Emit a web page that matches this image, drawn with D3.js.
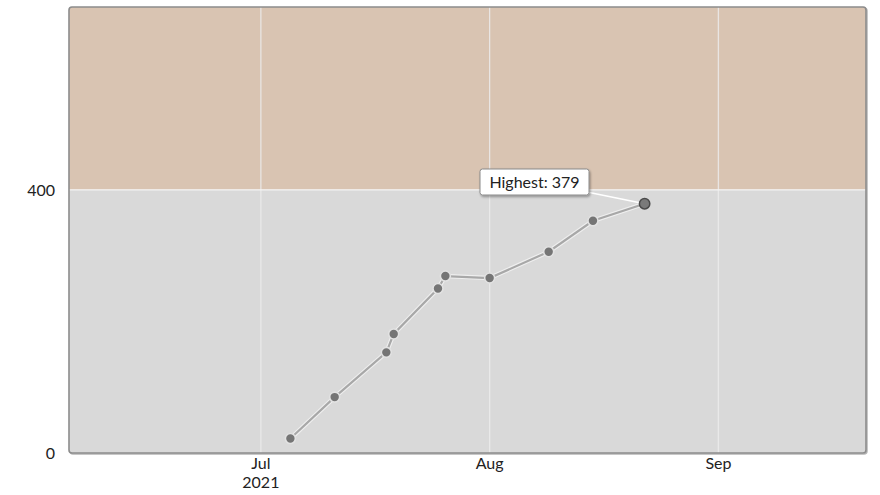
<!DOCTYPE html>
<html><head><meta charset="utf-8">
<script src="https://cdn.jsdelivr.net/npm/d3@7"></script>
<style>
body{margin:0;background:#fff;}
svg{display:block;font-family:Lato,"Open Sans",sans-serif;}
</style></head>
<body><svg id="c" width="880" height="495"></svg>
<script>
const dates = ["2021-07-05","2021-07-11","2021-07-18","2021-07-19","2021-07-25","2021-07-26","2021-08-01","2021-08-09","2021-08-15","2021-08-22"];
const values = [22, 85, 153, 181, 250, 269, 266, 306, 353, 379];
const yTicks = [0, 400];
const xTicks = ["2021-07-01","2021-08-01","2021-09-01"];
const xTickLabels = ["Jul","Aug","Sep"];
const bandThreshold = 400;
const annotationText = "Highest: 379";

const parse = d3.timeParse("%Y-%m-%d");
const data = dates.map((d,i)=>({date:parse(d), value:values[i]}));

const svg = d3.select("#c");
const L=69, R=866, T=7, B=453;
const x = d3.scaleTime().domain([parse("2021-06-05"), parse("2021-09-21")]).range([L,R]);
const y = d3.scaleLinear().domain([0,678]).range([B,T]);

const defs = svg.append("defs");
const f = defs.append("filter").attr("id","sh").attr("x","-20%").attr("y","-20%").attr("width","140%").attr("height","160%");
f.append("feDropShadow").attr("dx",1).attr("dy",1.5).attr("stdDeviation",1.2).attr("flood-color","#000").attr("flood-opacity",0.35);
defs.append("clipPath").attr("id","clip").append("rect").attr("x",L).attr("y",T).attr("width",R-L).attr("height",B-T).attr("rx",3);

svg.append("rect").attr("x",L+1).attr("y",T+1).attr("width",R-L).attr("height",B-T).attr("rx",3)
  .attr("fill","none").attr("stroke","#b5b5b5").attr("stroke-width",1.5);

const g = svg.append("g").attr("clip-path","url(#clip)");
g.append("rect").attr("x",L).attr("width",R-L).attr("y",y(bandThreshold)).attr("height",B-y(bandThreshold)).attr("fill","#d9d9d9");
g.append("rect").attr("x",L).attr("width",R-L).attr("y",T).attr("height",y(bandThreshold)-T).attr("fill","#d9c4b2");
g.selectAll(".vg").data(xTicks).join("line")
  .attr("x1",d=>x(parse(d))).attr("x2",d=>x(parse(d))).attr("y1",T).attr("y2",B)
  .attr("stroke","#ececec").attr("stroke-width",1.3).attr("opacity",0.85);
g.selectAll(".hg").data(yTicks.filter(v=>v>0)).join("line")
  .attr("x1",L).attr("x2",R).attr("y1",d=>y(d)).attr("y2",d=>y(d))
  .attr("stroke","#f4f4f4").attr("stroke-width",1.2);

svg.append("rect").attr("x",L).attr("y",T).attr("width",R-L).attr("height",B-T).attr("rx",3)
  .attr("fill","none").attr("stroke","#8c8c8c").attr("stroke-width",1.6);

const line = d3.line().x(d=>x(d.date)).y(d=>y(d.value));
svg.append("path").datum(data).attr("d",line).attr("fill","none").attr("stroke","#f2f2f2").attr("stroke-width",4.5).attr("opacity",0.85);
svg.append("path").datum(data).attr("d",line).attr("fill","none").attr("stroke","#a8a8a8").attr("stroke-width",2.2);

const maxD = data[d3.maxIndex(data,d=>d.value)];
const px = x(maxD.date), py = y(maxD.value);
const bx = 480, by = 169, bw = 109, bh = 26;
svg.append("line").attr("x1",bx+bw-2).attr("y1",by+bh-3).attr("x2",px).attr("y2",py)
  .attr("stroke","#ffffff").attr("stroke-width",1.6);

svg.selectAll(".pt").data(data.filter(d=>d!==maxD)).join("circle")
  .attr("cx",d=>x(d.date)).attr("cy",d=>y(d.value)).attr("r",5)
  .attr("fill","#757575").attr("stroke","#e2e2e2").attr("stroke-width",1.6);
svg.append("circle").attr("cx",px).attr("cy",py).attr("r",5.2)
  .attr("fill","#7a7a7a").attr("stroke","#4a4a4a").attr("stroke-width",1.5);

svg.append("rect").attr("x",bx).attr("y",by).attr("width",bw).attr("height",bh).attr("rx",2.5)
  .attr("fill","#fff").attr("stroke","#8a8a8a").attr("stroke-width",1).attr("filter","url(#sh)");
svg.append("text").attr("x",bx+bw/2).attr("y",by+bh/2+6).attr("text-anchor","middle")
  .attr("font-size",16).attr("fill","#222").text(annotationText);

svg.selectAll(".yl").data(yTicks).join("text")
  .attr("x",55).attr("y",d=>y(d)+6).attr("text-anchor","end")
  .attr("font-size",16).attr("fill","#222").text(d=>d);

svg.selectAll(".xl").data(xTicks).join("text")
  .attr("x",d=>x(parse(d))).attr("y",469).attr("text-anchor","middle")
  .attr("font-size",16).attr("fill","#222").text((d,i)=>xTickLabels[i]);
svg.append("text").attr("x",x(parse(xTicks[0]))).attr("y",488).attr("text-anchor","middle")
  .attr("font-size",16).attr("fill","#222").text(d3.timeFormat("%Y")(parse(xTicks[0])));
</script></body></html>
